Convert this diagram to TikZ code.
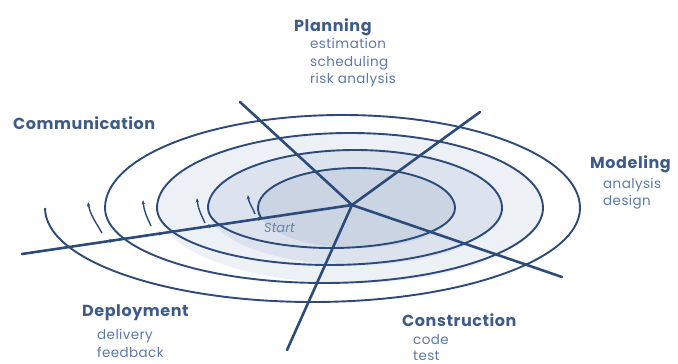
\documentclass[tikz,border=0pt]{standalone}
\usepackage{fontspec}
\setmainfont{Poppins}
\usetikzlibrary{arrows.meta,decorations.markings}
\definecolor{navy}{HTML}{2D4B7A}
\definecolor{headc}{HTML}{3F5C88}
\definecolor{subc}{HTML}{5B79AA}
\definecolor{startc}{HTML}{6A82AA}
\definecolor{fillA}{HTML}{CAD4E3}
\definecolor{fillB}{HTML}{DCE3EE}
\definecolor{fillC}{HTML}{EDF1F6}
\tikzset{
  axisline/.style={draw=navy, line width=2.6pt, line cap=round},
  spiralline/.style={draw=navy, line width=1.9pt},
  stubline/.style={draw=navy, line width=1.4pt, -{Stealth[length=4.5pt,width=3.5pt]}},
  head/.style={text=headc, font=\fontsize{16}{18}\selectfont\bfseries\addfontfeature{LetterSpace=3.5}, inner sep=0pt, anchor=base west},
  sub/.style={text=subc, font=\fontsize{13.5}{15}\selectfont\addfontfeature{LetterSpace=3}, inner sep=0pt, anchor=base west},
}
\begin{document}
\begin{tikzpicture}[x=1pt,y=-1pt]
\useasboundingbox (0,0) rectangle (678,364);
% shading of inner loops
\fill[fillC] (157,208) arc[start angle=180,end angle=0,x radius=193pt,y radius=75pt]
  arc[start angle=0,end angle=-180,x radius=193pt,y radius=75pt] -- cycle;
\fill[fillB] (208,208) arc[start angle=180,end angle=0,x radius=147pt,y radius=58pt]
  arc[start angle=0,end angle=-180,x radius=147pt,y radius=57pt] -- cycle;
\fill[fillA] (258,208) arc[start angle=180,end angle=0,x radius=98.5pt,y radius=40pt]
  arc[start angle=0,end angle=-180,x radius=98.5pt,y radius=40pt] -- cycle;
% spiral
\draw[spiralline] (261.36,218.35)
  arc[start angle=195,end angle=0,x radius=98.5pt,y radius=40pt]
  arc[start angle=0,end angle=-180,x radius=123.5pt,y radius=40pt]
  arc[start angle=180,end angle=0,x radius=147pt,y radius=58pt]
  arc[start angle=0,end angle=-180,x radius=172.5pt,y radius=57pt]
  arc[start angle=180,end angle=0,x radius=193pt,y radius=75pt]
  arc[start angle=0,end angle=-180,x radius=219pt,y radius=75pt]
  arc[start angle=180,end angle=0,x radius=237.5pt,y radius=93pt]
  arc[start angle=0,end angle=-180,x radius=267.5pt,y radius=94pt];
% direction stubs
\coordinate (s1a) at (255,214); \coordinate (s1b) at (248,195);
\coordinate (s2a) at (205,223); \coordinate (s2b) at (197,198);
\coordinate (s3a) at (151,226); \coordinate (s3b) at (143,200);
\coordinate (s4a) at (102,233); \coordinate (s4b) at (88,202);
\draw[stubline] (s1a) to[out=110,in=-85] (s1b);
\draw[stubline] (s2a) to[out=115,in=-85] (s2b);
\draw[stubline] (s3a) to[out=115,in=-85] (s3b);
\draw[stubline] (s4a) to[out=120,in=-80] (s4b);
% axes
\coordinate (O) at (352,205);
\coordinate (aTL) at (240,102);
\coordinate (aTR) at (480,112);
\coordinate (aBR) at (562,277);
\coordinate (aB) at (287,350);
\coordinate (aL) at (22,254);
\draw[axisline] (O) -- (aTL);
\draw[axisline] (O) -- (aTR);
\draw[axisline] (O) -- (aBR);
\draw[axisline] (O) -- (aB);
\draw[axisline, postaction={decorate}, decoration={markings,
  mark=at position 0.28 with {\arrow{Stealth[length=5pt,width=4pt]}},
  mark=at position 0.43 with {\arrow{Stealth[length=5pt,width=4pt]}},
  mark=at position 0.58 with {\arrow{Stealth[length=5pt,width=4pt]}},
  mark=at position 0.73 with {\arrow{Stealth[length=5pt,width=4pt]}}}] (aL) -- (O);
% labels
\node[text=startc, font=\fontsize{13}{15}\selectfont\itshape, inner sep=0pt, anchor=base west] (start) at (264,232) {Start};
\node[head] (plan) at (294,31.5) {Planning};
\node[sub] (est) at (310,48.5) {estimation};
\node[sub] (sch) at (310,66) {scheduling};
\node[sub] (risk) at (310,83) {risk analysis};
\node[head] (comm) at (13,129.5) {Communication};
\node[head] (mod) at (590,168) {Modeling};
\node[sub] (ana) at (603,188) {analysis};
\node[sub] (des) at (603,205) {design};
\node[head] (dep) at (82,316.5) {Deployment};
\node[sub] (del) at (97,339) {delivery};
\node[sub] (fee) at (97,357.5) {feedback};
\node[head] (con) at (402,326) {Construction};
\node[sub] (code) at (413,344) {code};
\node[sub] (test) at (413,360) {test};
\end{tikzpicture}
\end{document}
